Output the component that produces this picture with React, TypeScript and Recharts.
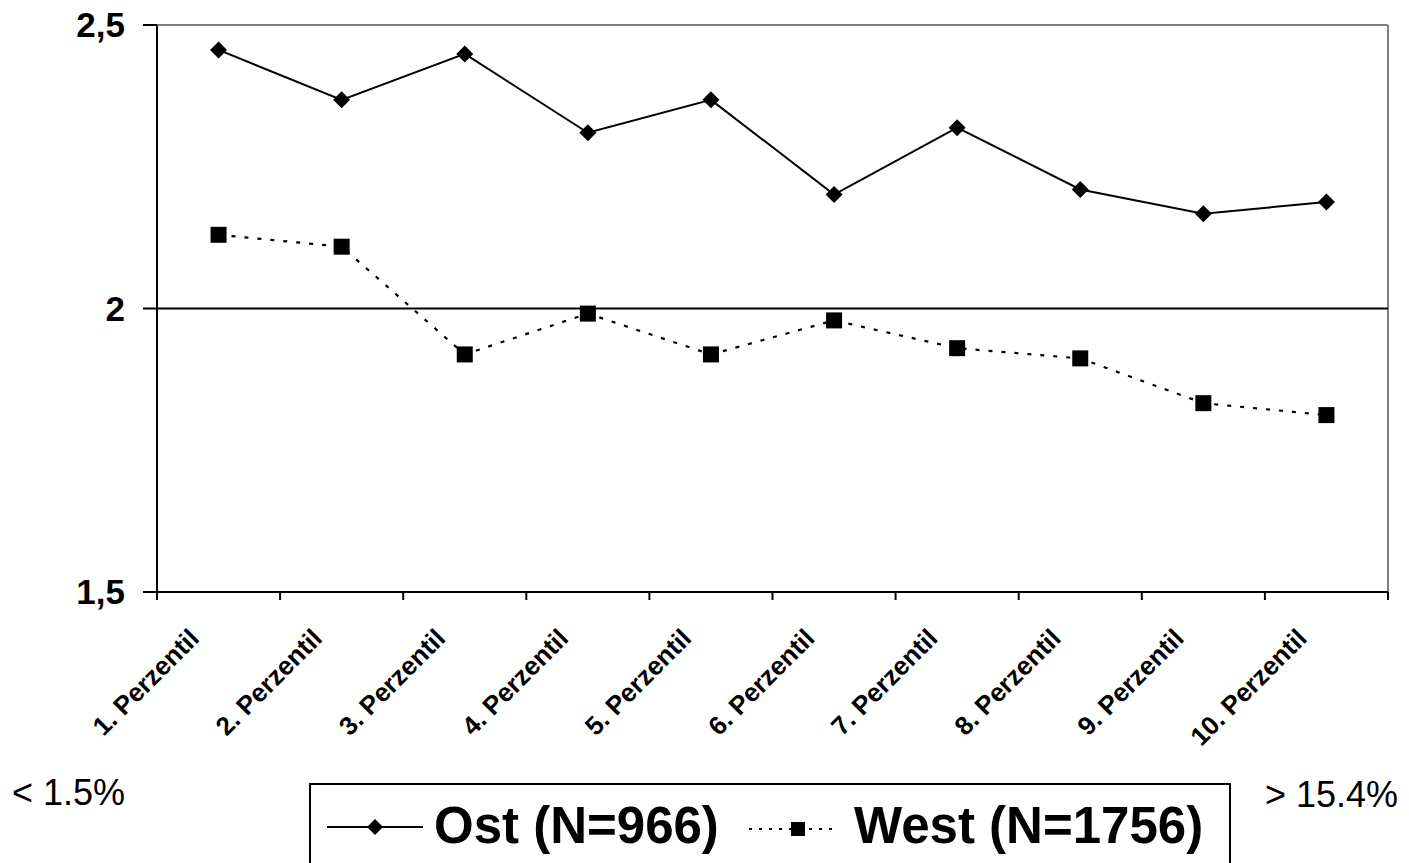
import React from 'react';
import { LineChart, Line, XAxis, YAxis, ReferenceLine } from 'recharts';

const categories = [
  '1. Perzentil', '2. Perzentil', '3. Perzentil', '4. Perzentil', '5. Perzentil',
  '6. Perzentil', '7. Perzentil', '8. Perzentil', '9. Perzentil', '10. Perzentil',
];
const ostValues = [2.456, 2.368, 2.449, 2.31, 2.368, 2.201, 2.319, 2.21, 2.167, 2.188];
const westValues = [2.13, 2.109, 1.919, 1.991, 1.919, 1.979, 1.93, 1.912, 1.833, 1.812];
const yTicks = [1.5, 2, 2.5];
const xBoundaryTicks = [0, 1, 2, 3, 4, 5, 6, 7, 8, 9, 10];
const ostLabel = 'Ost (N=966)';
const westLabel = 'West (N=1756)';
const leftNote = '< 1.5%';
const rightNote = '> 15.4%';

const data = categories.map((name, i) => ({
  name,
  pos: i + 0.5,
  ost: ostValues[i],
  west: westValues[i],
}));

const FONT = '"Liberation Sans", Arial, Helvetica, sans-serif';
const W = 1409;
const H = 752;
const MARGIN = { top: 25, right: 21, bottom: 0, left: 0 };
const Y_AXIS_W = 157;
const PLOT_W = W - MARGIN.left - MARGIN.right - Y_AXIS_W;
const BAND = PLOT_W / categories.length;

const XTick = (props: any) => {
  const { x, y, payload } = props;
  const idx = payload.value;
  if (idx >= categories.length) return <g />;
  const ax = x + BAND / 2 - 18;
  const ay = y + 40;
  return (
    <text
      x={ax}
      y={ay}
      transform={`rotate(-45, ${ax}, ${ay})`}
      textAnchor="end"
      fontFamily={FONT}
      fontWeight="bold"
      fontSize={26}
      fill="#000"
    >
      {categories[idx]}
    </text>
  );
};

const DiamondDot = (props: any) => {
  const { cx, cy, index } = props;
  const r = 8.5;
  return (
    <polygon
      key={`d-${index}`}
      points={`${cx},${cy - r} ${cx + r},${cy} ${cx},${cy + r} ${cx - r},${cy}`}
      fill="#000"
    />
  );
};

const SquareDot = (props: any) => {
  const { cx, cy, index } = props;
  const s = 16;
  return <rect key={`s-${index}`} x={cx - s / 2} y={cy - s / 2} width={s} height={s} fill="#000" />;
};

export default function App() {
  return (
    <div
      style={{
        position: 'fixed',
        left: 0,
        top: 0,
        width: W,
        height: 863,
        overflow: 'hidden',
        background: '#fff',
      }}
    >
      <LineChart width={W} height={H} data={data} margin={MARGIN}>
        <XAxis
          type="number"
          dataKey="pos"
          domain={[0, 10]}
          ticks={xBoundaryTicks}
          interval={0}
          height={160}
          tick={<XTick />}
          tickSize={8}
          tickMargin={0}
          axisLine={{ stroke: '#000', strokeWidth: 2 }}
          tickLine={{ stroke: '#000', strokeWidth: 2 }}
        />
        <YAxis
          type="number"
          domain={[1.5, 2.5]}
          ticks={yTicks}
          interval={0}
          width={Y_AXIS_W}
          tickSize={14}
          tickMargin={18}
          tickFormatter={(v: number) => String(v).replace('.', ',')}
          tick={{ fill: '#000', fontSize: 35, fontWeight: 'bold', fontFamily: FONT }}
          axisLine={{ stroke: '#000', strokeWidth: 2 }}
          tickLine={{ stroke: '#000', strokeWidth: 2 }}
        />
        <ReferenceLine y={2.5} stroke="#808080" strokeWidth={2} />
        <ReferenceLine x={10} stroke="#808080" strokeWidth={2} />
        <ReferenceLine y={2} stroke="#000" strokeWidth={2} />
        <Line
          dataKey="ost"
          stroke="#000"
          strokeWidth={2}
          dot={DiamondDot}
          activeDot={false}
          isAnimationActive={false}
        />
        <Line
          dataKey="west"
          stroke="#000"
          strokeWidth={2.2}
          strokeDasharray="4 9"
          dot={SquareDot}
          activeDot={false}
          isAnimationActive={false}
        />
      </LineChart>
      <svg
        width={W}
        height={863}
        style={{ position: 'absolute', left: 0, top: 0, pointerEvents: 'none' }}
      >
        <text x={12} y={805} fontFamily={FONT} fontSize={36} fill="#000">
          {leftNote}
        </text>
        <text x={1265} y={807} fontFamily={FONT} fontSize={36} fill="#000">
          {rightNote}
        </text>
        <rect x={310} y={784} width={920} height={120} fill="none" stroke="#000" strokeWidth={2} />
        <line x1={327} y1={827} x2={423} y2={827} stroke="#000" strokeWidth={2} />
        <polygon points="375,819 383,827 375,835 367,827" fill="#000" />
        <text x={434} y={843} fontFamily={FONT} fontSize={51} fontWeight="bold" fill="#000">
          {ostLabel}
        </text>
        <line x1={749} y1={829} x2={839} y2={829} stroke="#000" strokeWidth={2} strokeDasharray="3 7" />
        <rect x={791} y={822} width={14} height={14} fill="#000" />
        <text x={854} y={843} fontFamily={FONT} fontSize={51} fontWeight="bold" fill="#000">
          {westLabel}
        </text>
      </svg>
    </div>
  );
}
